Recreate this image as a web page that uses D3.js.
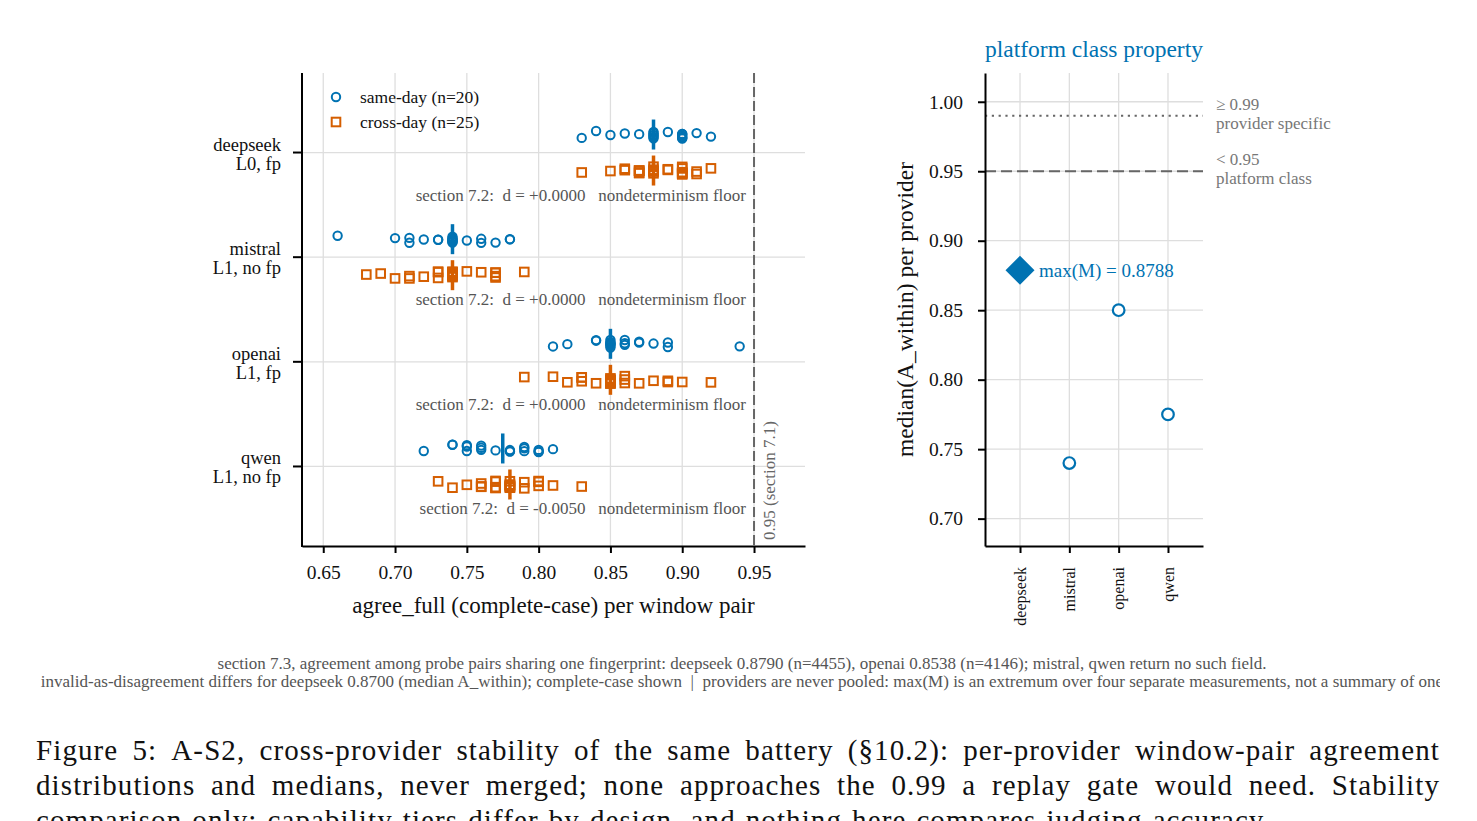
<!DOCTYPE html>
<html>
<head>
<meta charset="utf-8">
<script src="https://cdn.jsdelivr.net/npm/d3@7"></script>
<style>
  body { margin: 0; background: #fff; overflow: hidden; }
  #chart { position: absolute; left: 0; top: 0; }
  text { font-family: "Liberation Serif", serif; }
</style>
</head>
<body>
<svg id="chart" width="1477" height="821"></svg>
<script>
// --- data ---
const providers = ["deepseek", "mistral", "openai", "qwen"];
const tiers = ["L0, fp", "L1, no fp", "L1, fp", "L1, no fp"];
const deltas = ["+0.0000", "+0.0000", "+0.0000", "-0.0050"];

// agree_full per window pair, same-day (n=20) and cross-day (n=25)
const sameDay = [
  [0.83, 0.84, 0.85, 0.86, 0.87, 0.88, 0.88, 0.88, 0.88, 0.88, 0.88, 0.89, 0.90, 0.90, 0.90, 0.90, 0.90, 0.90, 0.91, 0.92],
  [0.66, 0.70, 0.71, 0.71, 0.72, 0.73, 0.73, 0.74, 0.74, 0.74, 0.74, 0.74, 0.74, 0.74, 0.75, 0.76, 0.76, 0.77, 0.78, 0.78],
  [0.81, 0.82, 0.84, 0.84, 0.85, 0.85, 0.85, 0.85, 0.85, 0.85, 0.85, 0.86, 0.86, 0.86, 0.87, 0.87, 0.88, 0.89, 0.89, 0.94],
  [0.72, 0.74, 0.74, 0.75, 0.75, 0.75, 0.76, 0.76, 0.76, 0.77, 0.78, 0.78, 0.78, 0.79, 0.79, 0.79, 0.80, 0.80, 0.80, 0.81]
];
const crossDay = [
  [0.83, 0.85, 0.86, 0.86, 0.87, 0.87, 0.87, 0.87, 0.87, 0.88, 0.88, 0.88, 0.88, 0.88, 0.89, 0.89, 0.90, 0.90, 0.90, 0.90, 0.90, 0.90, 0.91, 0.91, 0.92],
  [0.68, 0.69, 0.70, 0.71, 0.71, 0.72, 0.73, 0.73, 0.73, 0.74, 0.74, 0.74, 0.74, 0.74, 0.74, 0.74, 0.74, 0.74, 0.75, 0.76, 0.77, 0.77, 0.77, 0.77, 0.79],
  [0.79, 0.81, 0.82, 0.83, 0.83, 0.83, 0.84, 0.85, 0.85, 0.85, 0.85, 0.85, 0.85, 0.85, 0.85, 0.85, 0.86, 0.86, 0.86, 0.87, 0.88, 0.89, 0.89, 0.90, 0.92],
  [0.73, 0.74, 0.75, 0.76, 0.76, 0.76, 0.77, 0.77, 0.77, 0.77, 0.77, 0.78, 0.78, 0.78, 0.78, 0.78, 0.78, 0.78, 0.79, 0.79, 0.80, 0.80, 0.80, 0.81, 0.83]
];
const leftTicks = [0.65, 0.70, 0.75, 0.80, 0.85, 0.90, 0.95];
const floorLine = 0.95;

// right panel: median(A_within) per provider
const providerMedians = [0.8788, 0.74, 0.85, 0.775];
const rightTicks = [0.70, 0.75, 0.80, 0.85, 0.90, 0.95, 1.00];
const gateSpecific = 0.99;
const gatePlatform = 0.95;

const footnotes = [
  "section 7.3, agreement among probe pairs sharing one fingerprint: deepseek 0.8790 (n=4455), openai 0.8538 (n=4146); mistral, qwen return no such field.",
  "invalid-as-disagreement differs for deepseek 0.8700 (median A_within); complete-case shown  |  providers are never pooled: max(M) is an extremum over four separate measurements, not a summary of one"
];
const captionLines = [
  "Figure 5: A-S2, cross-provider stability of the same battery (§10.2): per-provider window-pair agreement",
  "distributions and medians, never merged; none approaches the 0.99 a replay gate would need.  Stability",
  "comparison only; capability tiers differ by design, and nothing here compares judging accuracy."
];

const BLUE = "#0072B2", ORANGE = "#D55E00", GRID = "#dedede", NOTE = "#555";

const svg = d3.select("#chart");
svg.append("rect").attr("width", 1477).attr("height", 821).attr("fill", "#fff");

// small deterministic vertical jitter (purely positional)
function jitter(i, s) {
  const v = Math.sin((i + 1) * 12.9898 + s * 78.233) * 43758.5453;
  return (v - Math.floor(v) - 0.5) * 8;
}

// ================= left panel =================
const L = { left: 302, right: 805, top: 73, bottom: 546 };
const x = d3.scaleLinear().domain([0.6352, 0.9855]).range([L.left, L.right]);
const y = d3.scaleLinear().domain([-0.76, 3.76]).range([L.top, L.bottom]);
const left = svg.append("g");

// grid
left.append("g").selectAll("line").data(leftTicks).join("line")
  .attr("x1", d => x(d)).attr("x2", d => x(d)).attr("y1", L.top).attr("y2", L.bottom)
  .attr("stroke", GRID).attr("stroke-width", 1.3);
left.append("g").selectAll("line").data(providers).join("line")
  .attr("x1", L.left).attr("x2", L.right).attr("y1", (d, i) => y(i)).attr("y2", (d, i) => y(i))
  .attr("stroke", GRID).attr("stroke-width", 1.3);

// floor line
left.append("line")
  .attr("x1", x(floorLine)).attr("x2", x(floorLine)).attr("y1", L.top).attr("y2", L.bottom)
  .attr("stroke", "#666").attr("stroke-width", 2).attr("stroke-dasharray", "10,4");
left.append("text")
  .attr("transform", `translate(${x(floorLine) + 15},${L.bottom - 6}) rotate(-90)`)
  .attr("dy", "0.35em").attr("font-size", 17).attr("fill", "#666")
  .text("0.95 (section 7.1)");

const series = [
  { data: sameDay, color: BLUE, off: -18, shape: "circle" },
  { data: crossDay, color: ORANGE, off: 18, shape: "square" }
];

series.forEach((s, si) => {
  s.data.forEach((vals, pi) => {
    const cy = y(pi) + s.off;
    const g = left.append("g");
    if (s.shape === "circle") {
      g.selectAll("circle").data(vals).join("circle")
        .attr("cx", d => x(d)).attr("cy", (d, i) => cy + jitter(i, pi * 2 + si))
        .attr("r", 4.2).attr("fill", "none").attr("stroke", s.color).attr("stroke-width", 2);
    } else {
      g.selectAll("rect").data(vals).join("rect")
        .attr("x", d => x(d) - 4.3).attr("y", (d, i) => cy + jitter(i, pi * 2 + si) - 4.3)
        .attr("width", 8.6).attr("height", 8.6)
        .attr("fill", "none").attr("stroke", s.color).attr("stroke-width", 2);
    }
    const m = d3.median(vals);
    g.append("line")
      .attr("x1", x(m)).attr("x2", x(m)).attr("y1", cy - 15).attr("y2", cy + 15)
      .attr("stroke", s.color).attr("stroke-width", 3.5);
  });
});

// section 7.2 notes
left.append("g").selectAll("text").data(deltas).join("text")
  .attr("x", 746).attr("y", (d, i) => y(i) + 48)
  .attr("text-anchor", "end").attr("font-size", 17).attr("fill", NOTE)
  .style("white-space", "pre")
  .text(d => `section 7.2:  d = ${d}   nondeterminism floor`);

// axes
const xAxis = left.append("g").attr("transform", `translate(0,${L.bottom})`)
  .call(d3.axisBottom(x).tickValues(leftTicks).tickFormat(d3.format(".2f")).tickSize(7).tickSizeOuter(0).tickPadding(12));
xAxis.select(".domain").attr("stroke-width", 2);
xAxis.selectAll(".tick line").attr("stroke-width", 2);
xAxis.selectAll("text").attr("font-size", 19.5).attr("font-family", "Liberation Serif").attr("fill", "#111");

left.append("line").attr("x1", L.left).attr("x2", L.left).attr("y1", L.top).attr("y2", L.bottom + 1)
  .attr("stroke", "#000").attr("stroke-width", 2);
left.append("g").selectAll("line").data(providers).join("line")
  .attr("x1", L.left - 9).attr("x2", L.left).attr("y1", (d, i) => y(i)).attr("y2", (d, i) => y(i))
  .attr("stroke", "#000").attr("stroke-width", 2);
const yl = left.append("g").selectAll("text").data(providers).join("text")
  .attr("text-anchor", "end").attr("font-size", 18.5).attr("fill", "#111");
yl.append("tspan").attr("x", 281).attr("y", (d, i) => y(i) - 2).text(d => d);
yl.append("tspan").attr("x", 281).attr("y", (d, i) => y(i) + 17).text((d, i) => tiers[i]);

left.append("text").attr("x", (L.left + L.right) / 2).attr("y", 613)
  .attr("text-anchor", "middle").attr("font-size", 23).attr("fill", "#111")
  .text("agree_full (complete-case) per window pair");

// legend
const leg = left.append("g");
leg.append("circle").attr("cx", 336).attr("cy", 97).attr("r", 4.2)
  .attr("fill", "none").attr("stroke", BLUE).attr("stroke-width", 2);
leg.append("rect").attr("x", 336 - 4.3).attr("y", 122 - 4.3).attr("width", 8.6).attr("height", 8.6)
  .attr("fill", "none").attr("stroke", ORANGE).attr("stroke-width", 2);
leg.append("text").attr("x", 360).attr("y", 102.5).attr("font-size", 17.5).attr("fill", "#111")
  .text(`same-day (n=${sameDay[0].length})`);
leg.append("text").attr("x", 360).attr("y", 127.5).attr("font-size", 17.5).attr("fill", "#111")
  .text(`cross-day (n=${crossDay[0].length})`);

// ================= right panel =================
const R = { left: 985, right: 1203, top: 73, bottom: 546 };
const px = d3.scalePoint().domain(providers).range([R.left, R.right]).padding(0.71);
const py = d3.scaleLinear().domain([0.6803, 1.0207]).range([R.bottom, R.top]);
const right = svg.append("g");

right.append("g").selectAll("line").data(rightTicks).join("line")
  .attr("x1", R.left).attr("x2", R.right).attr("y1", d => py(d)).attr("y2", d => py(d))
  .attr("stroke", GRID).attr("stroke-width", 1.3);
right.append("g").selectAll("line").data(providers).join("line")
  .attr("x1", d => px(d)).attr("x2", d => px(d)).attr("y1", R.top).attr("y2", R.bottom)
  .attr("stroke", GRID).attr("stroke-width", 1.3);

right.append("line").attr("x1", R.left).attr("x2", R.right)
  .attr("y1", py(gateSpecific)).attr("y2", py(gateSpecific))
  .attr("stroke", "#666").attr("stroke-width", 2).attr("stroke-dasharray", "2.2,4.6");
right.append("line").attr("x1", R.left).attr("x2", R.right)
  .attr("y1", py(gatePlatform)).attr("y2", py(gatePlatform))
  .attr("stroke", "#666").attr("stroke-width", 2).attr("stroke-dasharray", "11,5");

const gl = right.append("g").attr("font-size", 17).attr("fill", "#777");
gl.append("text").attr("x", 1216).attr("y", py(gateSpecific) - 6).text("≥ 0.99");
gl.append("text").attr("x", 1216).attr("y", py(gateSpecific) + 13).text("provider specific");
gl.append("text").attr("x", 1216).attr("y", py(gatePlatform) - 6).text("< 0.95");
gl.append("text").attr("x", 1216).attr("y", py(gatePlatform) + 13).text("platform class");

const maxIdx = d3.maxIndex(providerMedians);
right.append("g").selectAll("circle")
  .data(providers.filter((d, i) => i !== maxIdx))
  .join("circle")
  .attr("cx", d => px(d)).attr("cy", d => py(providerMedians[providers.indexOf(d)]))
  .attr("r", 5.8).attr("fill", "#fff").attr("stroke", BLUE).attr("stroke-width", 2.2);
right.append("path")
  .attr("d", d3.symbol(d3.symbolSquare, 420)())
  .attr("transform", `translate(${px(providers[maxIdx])},${py(providerMedians[maxIdx])}) rotate(45)`)
  .attr("fill", BLUE);
right.append("text")
  .attr("x", px(providers[maxIdx]) + 19).attr("y", py(providerMedians[maxIdx]))
  .attr("dy", "0.35em").attr("font-size", 19).attr("fill", BLUE)
  .text(`max(M) = ${providerMedians[maxIdx].toFixed(4)}`);

const yAxis = right.append("g").attr("transform", `translate(${R.left},0)`)
  .call(d3.axisLeft(py).tickValues(rightTicks).tickFormat(d3.format(".2f")).tickSize(7).tickSizeOuter(0).tickPadding(15));
yAxis.select(".domain").attr("stroke-width", 2);
yAxis.selectAll(".tick line").attr("stroke-width", 2);
yAxis.selectAll("text").attr("font-size", 19.5).attr("font-family", "Liberation Serif").attr("fill", "#111");

const bAxis = right.append("g").attr("transform", `translate(0,${R.bottom})`)
  .call(d3.axisBottom(px).tickSize(7).tickSizeOuter(0).tickFormat(""));
bAxis.select(".domain").attr("stroke-width", 2);
bAxis.selectAll(".tick line").attr("stroke-width", 2);
right.append("g").selectAll("text").data(providers).join("text")
  .attr("transform", d => `translate(${px(d)},567) rotate(-90)`)
  .attr("text-anchor", "end").attr("dy", "0.35em").attr("font-size", 16).attr("fill", "#111")
  .text(d => d);

right.append("text")
  .attr("transform", `translate(905,${(R.top + R.bottom) / 2}) rotate(-90)`)
  .attr("text-anchor", "middle").attr("dy", "0.35em").attr("font-size", 23.5).attr("fill", "#111")
  .text("median(A_within) per provider");
right.append("text").attr("x", (R.left + R.right) / 2).attr("y", 57)
  .attr("text-anchor", "middle").attr("font-size", 23.5).attr("fill", BLUE)
  .text("platform class property");

// ================= footnotes =================
svg.append("clipPath").attr("id", "figclip").append("rect")
  .attr("x", 0).attr("y", 0).attr("width", 1440).attr("height", 821);
svg.append("g").attr("clip-path", "url(#figclip)")
  .attr("font-size", 17).attr("fill", NOTE).attr("text-anchor", "middle")
  .selectAll("text").data(footnotes).join("text")
  .attr("x", 742).attr("y", (d, i) => 669 + i * 18)
  .style("white-space", "pre")
  .text(d => d);

// ================= caption (justified word by word) =================
const cap = svg.append("g").attr("font-size", 29).attr("fill", "#111")
  .style("letter-spacing", "1.1px");
const capLeft = 36, capRight = 1440;
captionLines.forEach((line, li) => {
  const words = line.split(/ +/);
  const base = 760 + li * 35;
  const nodes = words.map(w => cap.append("text").attr("y", base).text(w));
  const widths = nodes.map(n => n.node().getComputedTextLength());
  const total = d3.sum(widths);
  const justify = li < captionLines.length - 1;
  const gap = justify ? (capRight - capLeft - total) / (words.length - 1) : 10;
  let cx = capLeft;
  nodes.forEach((n, i) => {
    // sentence end gets a little extra space in the unjustified line only
    n.attr("x", cx);
    cx += widths[i] + gap;
  });
});
</script>
</body>
</html>
